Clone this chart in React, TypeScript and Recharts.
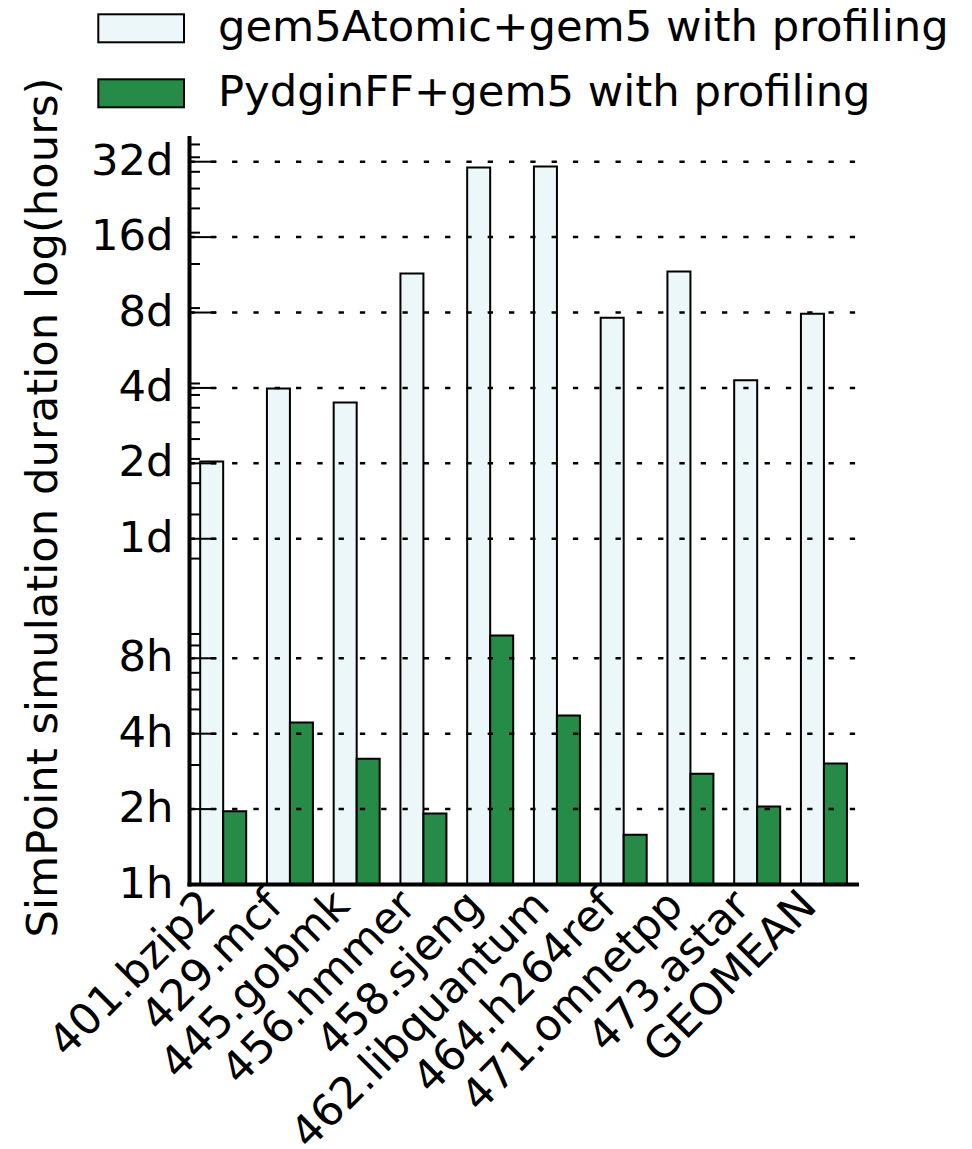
import { Bar, BarChart, Legend, ReferenceLine, XAxis, YAxis } from "recharts";

const categories = [
  "401.bzip2",
  "429.mcf",
  "445.gobmk",
  "456.hmmer",
  "458.sjeng",
  "462.libquantum",
  "464.h264ref",
  "471.omnetpp",
  "473.astar",
  "GEOMEAN",
];

// hours
const gem5Atomic = [48.8, 95.6, 84, 275, 729, 735, 183, 280, 103, 190];
const pydginFF = [1.96, 4.43, 3.18, 1.92, 9.86, 4.73, 1.58, 2.77, 2.05, 3.04];

const majorTicks = [1, 2, 4, 8, 24, 48, 96, 192, 384, 768];
const majorLabels = ["1h", "2h", "4h", "8h", "1d", "2d", "4d", "8d", "16d", "32d"];
const minorTicks = [3, 5, 6, 7, 9, 10, 20, 30, 40, 50, 60, 70, 80, 90, 100, 200, 300, 400, 500, 600, 700, 800, 900];

const seriesNames = ["gem5Atomic+gem5 with profiling", "PydginFF+gem5 with profiling"];
const seriesColors = ["#ebf7f8", "#258b46"];

const data = categories.map((name, i) => ({
  name,
  gem5: gem5Atomic[i],
  pydgin: pydginFF[i],
}));

const FONT = "DejaVu Sans";
const FS = 43.3;
const AXIS_X = 189.5;

function YTick(props: any) {
  const { y, payload } = props;
  const idx = majorTicks.indexOf(payload.value);
  const isMajor = idx >= 0;
  return (
    <g>
      <line x1={AXIS_X} x2={AXIS_X + (isMajor ? 27 : 10.5)} y1={y} y2={y} stroke="#000" strokeWidth={2} />
      {isMajor && (
        <text x={AXIS_X - 16} y={y} dy={13} textAnchor="end" fontFamily={FONT} fontSize={FS} fill="#000">
          {majorLabels[idx]}
        </text>
      )}
    </g>
  );
}

function XTick(props: any) {
  const { x, payload } = props;
  const ex = x - 5;
  const ey = 908;
  return (
    <text
      x={ex}
      y={ey}
      textAnchor="end"
      transform={`rotate(-45, ${ex}, ${ey})`}
      fontFamily={FONT}
      fontSize={FS}
      fill="#000"
    >
      {payload.value}
    </text>
  );
}

function LegendBox() {
  return (
    <svg width={972} height={120} style={{ display: "block" }}>
      {seriesNames.map((name, i) => (
        <g key={name}>
          <rect x={98.3} y={14.3 + i * 65} width={85.7} height={28} fill={seriesColors[i]} stroke="#000" strokeWidth={2} />
          <text x={218} y={41 + i * 65} fontFamily={FONT} fontSize={FS} fill="#000">
            {name}
          </text>
        </g>
      ))}
    </svg>
  );
}

function YLabel() {
  return (
    <text
      x={57}
      y={507.5}
      transform="rotate(-90, 57, 507.5)"
      textAnchor="middle"
      fontFamily={FONT}
      fontSize={FS}
      fill="#000"
    >
      SimPoint simulation duration log(hours)
    </text>
  );
}

export default function App() {
  return (
    <div style={{ position: "absolute", left: 0, top: 0, width: 972, height: 1149, background: "#fff" }}>
      <BarChart
        width={972}
        height={1149}
        data={data}
        margin={{ top: 138, right: 115, left: 0, bottom: 0 }}
        barCategoryGap="16%"
        barGap={0}
      >
        <XAxis
          dataKey="name"
          height={264.5}
          interval={0}
          tickLine={false}
          axisLine={{ stroke: "#000", strokeWidth: 4, strokeLinecap: "square" }}
          tick={<XTick />}
        />
        <YAxis
          type="number"
          scale="log"
          domain={[1, 955]}
          allowDataOverflow
          width={AXIS_X}
          ticks={[...majorTicks, ...minorTicks]}
          interval={0}
          tickLine={false}
          axisLine={{ stroke: "#000", strokeWidth: 4, strokeLinecap: "square" }}
          tick={<YTick />}
          label={{ content: <YLabel /> }}
        />
        {majorTicks.slice(1).map((v) => (
          <ReferenceLine key={v} y={v} stroke="#000" strokeWidth={2.5} strokeDasharray="5.3 16" />
        ))}
        <Legend
          layout="horizontal"
          verticalAlign="middle"
          align="center"
          wrapperStyle={{ position: "absolute", top: 0, left: 0, width: 972, height: 120 }}
          content={<LegendBox />}
        />
        <Bar dataKey="gem5" name={seriesNames[0]} fill={seriesColors[0]} stroke="#000" strokeWidth={2} isAnimationActive={false} />
        <Bar dataKey="pydgin" name={seriesNames[1]} fill={seriesColors[1]} stroke="#000" strokeWidth={2} isAnimationActive={false} />
      </BarChart>
    </div>
  );
}
